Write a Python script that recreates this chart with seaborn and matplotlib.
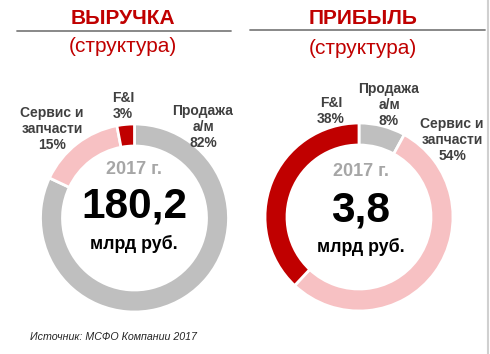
import matplotlib
matplotlib.use("Agg")
import matplotlib.pyplot as plt
import seaborn as sns

# ---- data ----
categories = ["Продажа\nа/м", "Сервис и\nзапчасти", "F&I"]
revenue_share = [82, 15, 3]
profit_share = [8, 54, 38]
revenue_total = "180,2"
profit_total = "3,8"
year_label = "2017 г."
unit_label = "млрд руб."
titles = ["ВЫРУЧКА", "ПРИБЫЛЬ"]
subtitle = "(структура)"
source = "Источник: МСФО Компании 2017"

sns.set_theme(style="white")
plt.rcParams['font.family'] = ['Liberation Sans', 'DejaVu Sans']

colors = ["#BFBFBF", "#F7C1C3", "#C00000"]
red = "#C00000"
lab_col = "#404040"

W, H = 490, 354
fig = plt.figure(figsize=(W / 100, H / 100), dpi=100)
ax = fig.add_axes([0, 0, 1, 1])
ax.set_xlim(0, W)
ax.set_ylim(0, H)
ax.set_aspect("equal")
ax.axis("off")

def Y(y):
    return H - y

R = 94
ring = 22
for vals, cx, cy in [(revenue_share, 134.5, 218), (profit_share, 359, 217)]:
    ax.pie(vals, colors=colors, startangle=90, counterclock=False,
           center=(cx, Y(cy)), radius=R, frame=True,
           wedgeprops=dict(width=ring, edgecolor="white", linewidth=2))
ax.set_xlim(0, W)
ax.set_ylim(0, H)
ax.axis("off")

# titles
for t, cx, ty, x0, x1, ly in [(titles[0], 123, 18, 17, 231, 31), (titles[1], 363, 19, 250, 485, 30)]:
    ax.text(cx, Y(ty), t, color=red, fontsize=15, fontweight="bold", ha="center", va="center")
    ax.plot([x0, x1], [Y(ly), Y(ly)], color="#7F7F7F", lw=1.3)
    ax.text(cx, Y(ty + 29), subtitle, color=red, fontsize=15, ha="center", va="center")

# center texts
for total, cx, y0 in [(revenue_total, 134, 169), (profit_total, 361, 172)]:
    ax.text(cx, Y(y0), year_label, color="#A6A6A6", fontsize=13, fontweight="bold",
            ha="center", va="center")
    ax.text(cx, Y(y0 + 38), total, color="black", fontsize=30.5, fontweight="bold",
            ha="center", va="center")
    ax.text(cx, Y(y0 + 75), unit_label, color="black", fontsize=12.8, fontweight="bold",
            ha="center", va="center")

# segment labels
left_pos = [(203, 127), (52, 129), (123, 106)]
right_pos = [(389, 105), (452, 140), (331, 111)]
for vals, pos in [(revenue_share, left_pos), (profit_share, right_pos)]:
    for cat, v, (x, y) in zip(categories, vals, pos):
        ax.text(x, Y(y), f"{cat}\n{v}%", color=lab_col, fontsize=10, fontweight="bold",
                ha="center", va="center", linespacing=1.15)

ax.text(30, Y(337), source, color="#262626", fontsize=7.7, style="italic",
        ha="left", va="center")

# right border line
ax.plot([487.5, 487.5], [0, H], color="#D0D0D0", lw=1.5)

fig.savefig("out.png", dpi=100)
